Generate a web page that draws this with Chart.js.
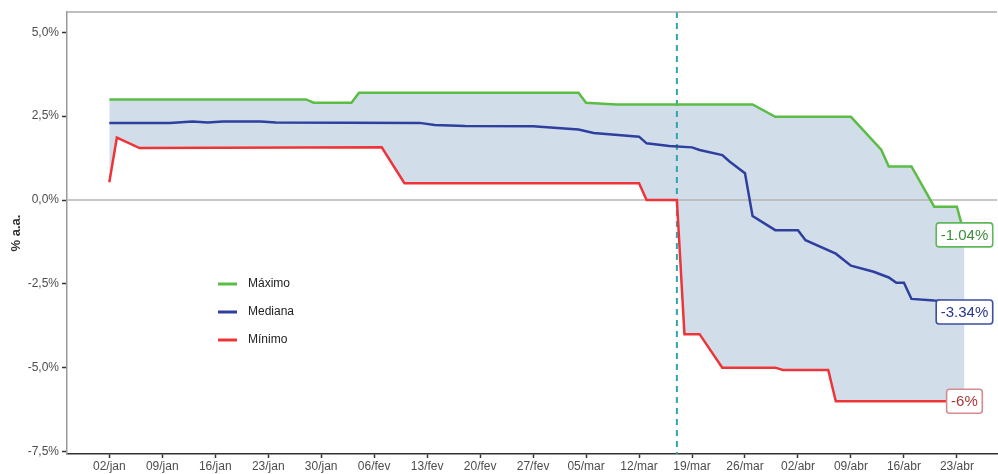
<!DOCTYPE html>
<html>
<head>
<meta charset="utf-8">
<script src="https://cdn.jsdelivr.net/npm/chart.js@4.4.1/dist/chart.umd.min.js"></script>
<style>
  html, body { margin: 0; padding: 0; background: #fff; }
  #wrap { width: 998px; height: 474px; position: relative; }
</style>
</head>
<body>
<div id="wrap"><canvas id="c"></canvas></div>
<script>
// ---------------- DATA ----------------
const seriesLabels = ['Máximo', 'Mediana', 'Mínimo'];

const maxDates = ['2020-01-02','2020-01-28','2020-01-29','2020-02-03','2020-02-04','2020-03-04','2020-03-05','2020-03-09','2020-03-27','2020-03-30','2020-04-09','2020-04-13','2020-04-14','2020-04-17','2020-04-20','2020-04-23','2020-04-24'];
const maxValues = [3.0, 3.0, 2.9, 2.9, 3.2, 3.2, 2.9, 2.85, 2.85, 2.48, 2.48, 1.5, 1.0, 1.0, -0.2, -0.2, -1.04];

const medDates = ['2020-01-02','2020-01-10','2020-01-13','2020-01-15','2020-01-17','2020-01-22','2020-01-24','2020-02-12','2020-02-14','2020-02-18','2020-02-27','2020-03-04','2020-03-06','2020-03-12','2020-03-13','2020-03-16','2020-03-19','2020-03-20','2020-03-23','2020-03-24','2020-03-25','2020-03-26','2020-03-27','2020-03-30','2020-04-02','2020-04-03','2020-04-07','2020-04-09','2020-04-12','2020-04-14','2020-04-15','2020-04-16','2020-04-17','2020-04-20','2020-04-23','2020-04-24'];
const medValues = [2.30, 2.30, 2.34, 2.31, 2.34, 2.34, 2.31, 2.30, 2.24, 2.21, 2.20, 2.10, 2.00, 1.89, 1.69, 1.61, 1.57, 1.49, 1.34, 1.14, 0.97, 0.80, -0.48, -0.90, -0.90, -1.20, -1.60, -1.96, -2.14, -2.31, -2.47, -2.47, -2.95, -3.00, -3.02, -3.34];

const minDates = ['2020-01-02','2020-01-03','2020-01-06','2020-02-07','2020-02-10','2020-03-12','2020-03-13','2020-03-17','2020-03-18','2020-03-20','2020-03-23','2020-03-30','2020-03-31','2020-04-06','2020-04-07','2020-04-24'];
const minValues = [0.53, 1.86, 1.55, 1.57, 0.50, 0.50, 0.00, 0.00, -4.00, -4.00, -5.00, -5.00, -5.07, -5.07, -6.00, -6.00];

const eventDate = '2020-03-17';
const yTickStep = 2.5;
const xTickStepDays = 7;
const monthNames = ['jan','fev','mar','abr','mai','jun','jul','ago','set','out','nov','dez'];

// ---------------- HELPERS ----------------
const baseDate = '2020-01-02';
function toUTC(s) { const p = s.split('-').map(Number); return Date.UTC(p[0], p[1]-1, p[2]); }
function dayIndex(s) { return Math.round((toUTC(s) - toUTC(baseDate)) / 864e5); }
function dayLabel(d) {
  const dt = new Date(toUTC(baseDate) + d * 864e5);
  const dd = String(dt.getUTCDate()).padStart(2, '0');
  return dd + '/' + monthNames[dt.getUTCMonth()];
}
function pts(dates, vals) { return dates.map((d, i) => ({ x: dayIndex(d), y: vals[i] })); }

const colors = {
  max: '#5bbd45', med: '#2f3f9e', min: '#ee3438',
  band: '#d1deea', zero: '#b5b5b5', event: '#2fa6ad'
};
const endLabelStyle = [
  { text: '#3b8f3b', border: '#5db85a' },
  { text: '#2a3690', border: '#3e4ea3' },
  { text: '#a8383a', border: '#d38d8f' }
];

Chart.defaults.font.family = "'Liberation Sans', Arial, sans-serif";

// ---------------- PLUGINS ----------------
const decor = {
  id: 'decor',
  beforeDatasetsDraw(chart) {
    const { ctx, chartArea: a, scales } = chart;
    ctx.save();
    // zero line
    const y0 = scales.y.getPixelForValue(0);
    ctx.strokeStyle = colors.zero; ctx.lineWidth = 1.5;
    ctx.beginPath(); ctx.moveTo(a.left, y0); ctx.lineTo(a.right, y0); ctx.stroke();
    // event dashed line
    const xe = scales.x.getPixelForValue(dayIndex(eventDate));
    ctx.strokeStyle = colors.event; ctx.lineWidth = 2; ctx.setLineDash([6, 5]);
    ctx.beginPath(); ctx.moveTo(xe, a.top); ctx.lineTo(xe, a.bottom); ctx.stroke();
    ctx.restore();
  },
  afterDraw(chart) {
    const { ctx, chartArea: a } = chart;
    ctx.save();
    // top frame line
    ctx.strokeStyle = '#aaaaaa'; ctx.lineWidth = 1.5;
    ctx.beginPath(); ctx.moveTo(a.left, a.top); ctx.lineTo(a.right, a.top); ctx.stroke();

    // legend inside plot
    ctx.font = "12px 'Liberation Sans', Arial, sans-serif";
    ctx.textBaseline = 'middle'; ctx.textAlign = 'left';
    chart.data.datasets.forEach((ds, i) => {
      const yy = a.top + 272 + i * 28;
      ctx.strokeStyle = ds.borderColor; ctx.lineWidth = 3;
      ctx.beginPath(); ctx.moveTo(a.left + 151, yy); ctx.lineTo(a.left + 170, yy); ctx.stroke();
      ctx.fillStyle = '#222';
      ctx.fillText(ds.label, a.left + 181, yy);
    });

    // end labels
    ctx.font = "15px 'Liberation Sans', Arial, sans-serif";
    ctx.textAlign = 'center'; ctx.textBaseline = 'middle';
    chart.data.datasets.forEach((ds, i) => {
      const meta = chart.getDatasetMeta(i);
      const p = meta.data[meta.data.length - 1];
      const v = ds.data[ds.data.length - 1].y;
      const txt = String(v) + '%';
      const w = ctx.measureText(txt).width + 9;
      const h = 24;
      const st = endLabelStyle[i];
      ctx.fillStyle = '#ffffff';
      ctx.strokeStyle = st.border; ctx.lineWidth = 1.6;
      ctx.beginPath();
      ctx.roundRect(p.x - w / 2, p.y - h / 2, w, h, 3);
      ctx.fill(); ctx.stroke();
      ctx.fillStyle = st.text;
      ctx.fillText(txt, p.x, p.y + 1);
    });
    ctx.restore();
  }
};

// ---------------- CHART ----------------
const lineOpts = { borderWidth: 2.5, pointRadius: 0, pointHoverRadius: 0, tension: 0 };

new Chart(document.getElementById('c'), {
  type: 'line',
  data: {
    datasets: [
      Object.assign({ label: seriesLabels[0], data: pts(maxDates, maxValues), borderColor: colors.max,
        backgroundColor: colors.band, fill: 2 }, lineOpts),
      Object.assign({ label: seriesLabels[1], data: pts(medDates, medValues), borderColor: colors.med, fill: false }, lineOpts),
      Object.assign({ label: seriesLabels[2], data: pts(minDates, minValues), borderColor: colors.min, fill: false }, lineOpts)
    ]
  },
  options: {
    responsive: true,
    maintainAspectRatio: false,
    animation: false,
    layout: { padding: { top: 12, right: 1, left: 0, bottom: 0 } },
    plugins: {
      legend: { display: false },
      tooltip: { enabled: false },
      filler: { drawTime: 'beforeDatasetsDraw' }
    },
    scales: {
      x: {
        type: 'linear',
        min: -5.59, max: 117.3,
        afterFit(s) { s.height = 20; },
        afterBuildTicks(s) {
          s.ticks = s.ticks.filter(t => t.value >= 0 && t.value <= s.max && t.value % xTickStepDays === 0);
        },
        ticks: {
          stepSize: xTickStepDays, includeBounds: false, autoSkip: false, maxRotation: 0,
          font: { size: 12 }, color: '#4d4d4d', padding: 1,
          callback: v => dayLabel(v)
        },
        grid: { drawOnChartArea: false, drawTicks: true, tickLength: 4, tickColor: '#333', tickWidth: 1.5 },
        border: { color: '#333', width: 1.5 }
      },
      y: {
        min: -7.575, max: 5.607,
        afterFit(s) { s.width = 67; },
        afterBuildTicks(s) {
          s.ticks = s.ticks.filter(t => t.value >= s.min && t.value <= s.max && Math.abs(t.value / yTickStep - Math.round(t.value / yTickStep)) < 1e-6);
        },
        ticks: {
          stepSize: yTickStep, includeBounds: false,
          font: { size: 12 }, color: '#4d4d4d', padding: 3,
          callback: v => v.toFixed(1).replace('.', ',') + '%'
        },
        title: { display: true, text: '% a.a.', font: { size: 13, weight: 'bold' }, color: '#333', padding: { top: 9, bottom: 0 } },
        grid: { drawOnChartArea: false, drawTicks: true, tickLength: 5, tickColor: '#333', tickWidth: 1.5 },
        border: { color: '#9a9a9a', width: 1.5 }
      }
    }
  },
  plugins: [decor]
});
</script>
</body>
</html>
